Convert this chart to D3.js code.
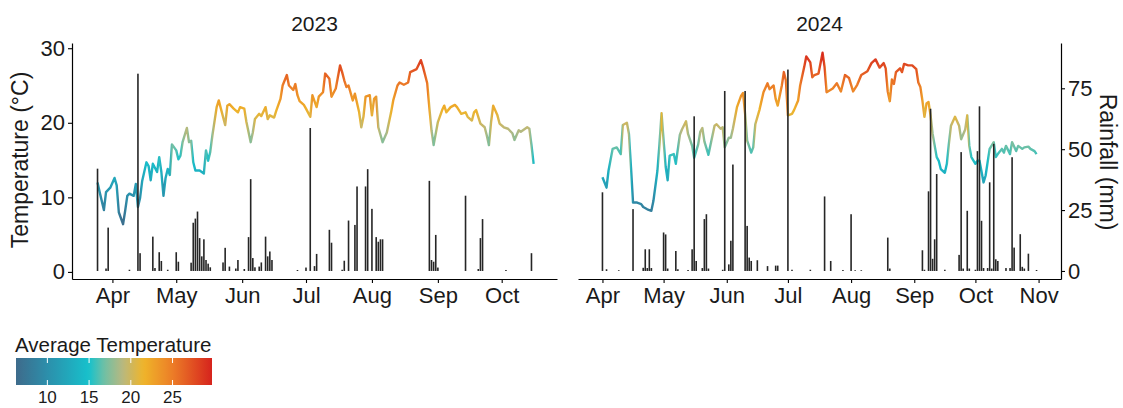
<!DOCTYPE html>
<html>
<head>
<meta charset="utf-8">
<script src="https://cdn.jsdelivr.net/npm/d3@7"></script>
<style>
  html, body { margin: 0; padding: 0; background: #fff; }
  svg text { font-family: "Liberation Sans", Arial, sans-serif; fill: #1a1a1a; }
</style>
</head>
<body>
<div id="chart"></div>
<script>
// Daily mean temperature (°C): [MM-DD, value]
const temp2023 = [
  ["03-25", 12.0], ["03-26", 10.7], ["03-28", 8.3], ["03-29", 10.7], ["03-31", 11.3],
  ["04-02", 12.6], ["04-03", 11.6], ["04-04", 8.0], ["04-06", 6.4], ["04-07", 8.2],
  ["04-08", 10.2], ["04-09", 10.5], ["04-11", 10.2], ["04-12", 11.8], ["04-13", 8.7],
  ["04-14", 9.9], ["04-15", 12.2], ["04-17", 14.7], ["04-18", 14.2], ["04-19", 12.3],
  ["04-20", 14.5], ["04-22", 13.4], ["04-23", 15.4], ["04-24", 13.4], ["04-25", 10.2],
  ["04-26", 12.6], ["04-27", 13.8], ["04-28", 13.0], ["04-29", 17.1], ["05-01", 16.3],
  ["05-02", 15.1], ["05-03", 15.6], ["05-04", 17.4], ["05-06", 19.3], ["05-07", 17.4],
  ["05-08", 17.6], ["05-09", 14.7], ["05-10", 13.6], ["05-12", 13.6], ["05-14", 13.2],
  ["05-15", 16.3], ["05-16", 14.9], ["05-17", 16.1], ["05-18", 18.3], ["05-20", 22.1],
  ["05-21", 23.0], ["05-22", 21.9], ["05-24", 19.7], ["05-25", 22.3], ["05-26", 22.5],
  ["05-28", 21.9], ["05-30", 21.4], ["05-31", 22.1], ["06-02", 21.9], ["06-03", 20.1],
  ["06-05", 17.4], ["06-06", 18.7], ["06-07", 20.5], ["06-09", 21.2], ["06-10", 20.9],
  ["06-12", 22.1], ["06-13", 20.5], ["06-14", 21.0], ["06-16", 20.7], ["06-17", 21.6],
  ["06-19", 23.2], ["06-20", 25.0], ["06-22", 26.4], ["06-23", 25.0], ["06-25", 24.4],
  ["06-26", 25.2], ["06-27", 23.7], ["06-28", 22.9], ["06-30", 22.4], ["07-01", 21.9],
  ["07-03", 20.8], ["07-04", 23.7], ["07-06", 22.1], ["07-07", 23.5], ["07-09", 24.1],
  ["07-10", 26.6], ["07-12", 25.9], ["07-13", 23.5], ["07-15", 24.6], ["07-17", 27.7],
  ["07-18", 26.8], ["07-19", 25.7], ["07-20", 24.8], ["07-21", 25.0], ["07-23", 23.0],
  ["07-24", 23.9], ["07-26", 21.4], ["07-27", 19.4], ["07-28", 20.8], ["07-29", 23.5],
  ["07-31", 23.7], ["08-01", 21.0], ["08-02", 23.2], ["08-03", 23.5], ["08-04", 19.4],
  ["08-06", 17.4], ["08-08", 18.7], ["08-10", 21.4], ["08-11", 23.0], ["08-13", 25.0],
  ["08-14", 25.4], ["08-16", 25.1], ["08-18", 25.4], ["08-19", 26.8], ["08-22", 27.2],
  ["08-24", 28.4], ["08-25", 27.5], ["08-26", 26.4], ["08-27", 25.3], ["08-28", 22.0],
  ["08-29", 19.0], ["08-30", 17.0], ["09-01", 20.1], ["09-03", 21.7], ["09-04", 22.3],
  ["09-05", 21.4], ["09-07", 22.1], ["09-09", 22.4], ["09-10", 22.1], ["09-12", 21.2],
  ["09-14", 21.4], ["09-15", 20.8], ["09-17", 20.3], ["09-18", 21.4], ["09-19", 21.7],
  ["09-21", 19.9], ["09-23", 19.4], ["09-24", 18.3], ["09-25", 17.0], ["09-26", 20.1],
  ["09-27", 22.3], ["09-29", 21.0], ["09-30", 19.9], ["10-02", 19.4], ["10-04", 19.2],
  ["10-06", 18.6], ["10-07", 17.7], ["10-09", 19.0], ["10-10", 18.8], ["10-13", 19.4],
  ["10-14", 19.2], ["10-15", 17.0], ["10-16", 14.5]
];

const temp2024 = [
  ["04-01", 12.7], ["04-03", 11.3], ["04-04", 13.6], ["04-06", 16.5], ["04-08", 16.7],
  ["04-10", 15.8], ["04-11", 19.7], ["04-13", 20.0], ["04-14", 18.5], ["04-15", 14.0],
  ["04-16", 9.3], ["04-18", 9.3], ["04-20", 9.1], ["04-21", 8.7], ["04-23", 8.4],
  ["04-25", 8.2], ["04-26", 9.5], ["04-28", 13.6], ["04-29", 17.2], ["04-30", 21.3],
  ["05-01", 17.6], ["05-02", 14.1], ["05-03", 12.3], ["05-04", 15.6], ["05-06", 15.8],
  ["05-07", 14.5], ["05-09", 18.4], ["05-10", 19.1], ["05-12", 20.2], ["05-13", 18.5],
  ["05-15", 16.9], ["05-16", 15.3], ["05-18", 17.1], ["05-19", 18.8], ["05-20", 19.3],
  ["05-21", 17.5], ["05-23", 15.7], ["05-25", 18.3], ["05-26", 19.6], ["05-27", 19.8],
  ["05-29", 19.2], ["05-30", 19.4], ["05-31", 16.7], ["06-02", 18.0], ["06-03", 18.0],
  ["06-04", 19.2], ["06-06", 22.1], ["06-08", 23.6], ["06-09", 24.0], ["06-10", 21.2],
  ["06-11", 17.6], ["06-13", 16.0], ["06-14", 16.7], ["06-15", 19.8], ["06-17", 21.7],
  ["06-19", 24.1], ["06-21", 25.3], ["06-22", 24.5], ["06-24", 25.0], ["06-25", 23.2],
  ["06-26", 22.3], ["06-28", 25.0], ["06-29", 26.8], ["06-30", 25.7], ["07-01", 21.0],
  ["07-03", 21.2], ["07-04", 21.7], ["07-06", 23.0], ["07-07", 25.0], ["07-09", 27.5],
  ["07-10", 28.9], ["07-12", 28.1], ["07-13", 26.1], ["07-14", 26.4], ["07-16", 26.6],
  ["07-18", 29.4], ["07-19", 27.5], ["07-20", 24.1], ["07-23", 24.6], ["07-25", 25.3],
  ["07-27", 24.2], ["07-29", 26.4], ["07-31", 26.0], ["08-02", 24.2], ["08-04", 25.1],
  ["08-06", 26.4], ["08-09", 26.9], ["08-11", 28.0], ["08-13", 28.5], ["08-15", 27.4],
  ["08-17", 28.0], ["08-18", 27.3], ["08-19", 24.2], ["08-20", 22.9], ["08-21", 25.8],
  ["08-22", 25.2], ["08-23", 26.8], ["08-25", 27.3], ["08-26", 26.8], ["08-27", 27.9],
  ["08-29", 27.7], ["08-31", 27.7], ["09-02", 27.2], ["09-03", 25.4], ["09-04", 24.8],
  ["09-05", 23.0], ["09-06", 20.8], ["09-07", 22.6], ["09-08", 22.8], ["09-09", 21.0],
  ["09-10", 18.5], ["09-12", 15.4], ["09-13", 14.9], ["09-14", 13.8], ["09-16", 13.3],
  ["09-17", 14.5], ["09-18", 17.2], ["09-19", 19.6], ["09-21", 20.8], ["09-23", 19.6],
  ["09-24", 17.8], ["09-26", 19.1], ["09-27", 21.0], ["09-28", 16.9], ["09-29", 15.4],
  ["10-01", 14.5], ["10-02", 14.9], ["10-03", 14.9], ["10-05", 12.0], ["10-06", 12.9],
  ["10-07", 14.7], ["10-08", 16.5], ["10-10", 17.4], ["10-11", 15.4], ["10-12", 15.8],
  ["10-14", 16.5], ["10-15", 16.0], ["10-16", 16.9], ["10-18", 15.8], ["10-19", 17.4],
  ["10-21", 16.2], ["10-22", 16.9], ["10-24", 16.5], ["10-25", 16.7], ["10-27", 16.8],
  ["10-28", 16.5], ["10-30", 16.2], ["10-31", 15.8]
];

// Daily rainfall (mm): [MM-DD, value]
const rain2023 = [
  ["03-25", 42.0], ["03-29", 1.0], ["03-30", 17.8], ["04-09", 0.5], ["04-13", 81.0],
  ["04-14", 7.3], ["04-20", 14.1], ["04-21", 1.2], ["04-23", 7.7], ["04-24", 4.1],
  ["04-27", 0.5], ["05-01", 7.7], ["05-02", 3.8], ["05-08", 3.4], ["05-09", 19.8],
  ["05-10", 21.5], ["05-11", 24.4], ["05-12", 13.5], ["05-13", 6.0], ["05-14", 13.0],
  ["05-15", 4.5], ["05-16", 3.0], ["05-17", 1.5], ["05-23", 3.5], ["05-24", 9.5],
  ["05-26", 1.8], ["05-29", 1.0], ["05-30", 4.5], ["06-02", 0.8], ["06-04", 13.9],
  ["06-05", 37.7], ["06-06", 5.3], ["06-07", 1.5], ["06-09", 1.8], ["06-10", 3.5],
  ["06-12", 14.1], ["06-13", 6.0], ["06-14", 8.0], ["06-15", 4.5], ["06-27", 0.4],
  ["07-01", 1.4], ["07-03", 58.7], ["07-05", 2.0], ["07-06", 7.0], ["07-12", 16.9],
  ["07-13", 11.6], ["07-18", 0.5], ["07-19", 4.2], ["07-21", 20.7], ["07-24", 18.9],
  ["07-25", 34.7], ["07-29", 34.7], ["07-30", 41.8], ["08-01", 25.5], ["08-03", 13.9],
  ["08-04", 12.0], ["08-05", 13.0], ["08-06", 13.0], ["08-28", 37.0], ["08-29", 4.5],
  ["08-30", 3.8], ["08-31", 14.8], ["09-01", 1.4], ["09-14", 30.9], ["09-20", 0.8],
  ["09-21", 13.5], ["09-22", 21.3], ["10-03", 0.4], ["10-15", 7.3]
];

const rain2024 = [
  ["04-01", 32.3], ["04-03", 0.7], ["04-09", 0.3], ["04-16", 25.4], ["04-21", 1.3],
  ["04-22", 8.9], ["04-23", 1.2], ["04-24", 8.9], ["04-25", 1.2], ["05-01", 15.8],
  ["05-02", 15.0], ["05-03", 1.0], ["05-07", 8.2], ["05-08", 0.7], ["05-13", 0.4],
  ["05-15", 8.9], ["05-16", 63.5], ["05-17", 4.1], ["05-20", 1.2], ["05-21", 21.3],
  ["05-22", 23.3], ["05-23", 1.0], ["05-30", 0.5], ["05-31", 73.9], ["06-02", 2.7],
  ["06-03", 12.4], ["06-04", 43.7], ["06-10", 73.9], ["06-11", 18.5], ["06-12", 5.5],
  ["06-13", 4.1], ["06-16", 4.4], ["06-21", 2.0], ["06-25", 2.2], ["06-26", 2.2],
  ["07-01", 82.7], ["07-03", 0.5], ["07-12", 0.5], ["07-19", 30.6], ["07-22", 4.1],
  ["07-28", 0.4], ["08-01", 23.3], ["08-03", 0.3], ["08-06", 0.3], ["08-19", 13.7],
  ["08-20", 1.0], ["09-05", 8.5], ["09-06", 0.5], ["09-08", 32.7], ["09-09", 66.6],
  ["09-10", 5.0], ["09-11", 13.0], ["09-12", 39.8], ["09-16", 0.5], ["09-23", 6.6],
  ["09-24", 48.8], ["09-25", 1.0], ["09-27", 24.7], ["09-28", 1.0], ["10-01", 0.5],
  ["10-02", 49.2], ["10-03", 67.6], ["10-04", 20.6], ["10-05", 1.2], ["10-07", 1.2],
  ["10-08", 36.4], ["10-09", 1.0], ["10-10", 52.2], ["10-11", 4.8], ["10-12", 4.1],
  ["10-16", 1.2], ["10-18", 1.2], ["10-19", 46.7], ["10-20", 9.6], ["10-23", 15.1],
  ["10-24", 1.7], ["10-25", 1.0], ["10-27", 7.1], ["10-31", 0.4]
];

const months2023 = ["04-01", "05-01", "06-01", "07-01", "08-01", "09-01", "10-01"];
const months2024 = ["04-01", "05-01", "06-01", "07-01", "08-01", "09-01", "10-01", "11-01"];
const tempTicks = [0, 10, 20, 30];
const rainTicks = [0, 25, 50, 75];
const legendTicks = [10, 15, 20, 25];
const colourStops = [6.24, 10, 15, 16.8, 19, 21.5, 25, 29.73];
const colourValues = ["#3e6b8b", "#2c8fab", "#17c1cc", "#6fc0a5", "#b8b880", "#efb52a", "#ec7d27", "#d6231d"];

const W = 1123, H = 408;
const parse = d3.timeParse("%Y-%m-%d");
const svg = d3.select("#chart").append("svg").attr("width", W).attr("height", H);
const defs = svg.append("defs");

const colour = d3.scaleLinear().domain(colourStops).range(colourValues).clamp(true);
const yTemp = d3.scaleLinear().domain([-0.95, 30.7]).range([279, 43]);
const yRain = d3.scaleLinear().domain([-3.3, 93.6]).range([279, 43]);

const panels = [
  { year: 2023, x0: 72, x1: 557, domain: ["03-13", "10-27"], months: months2023, temp: temp2023, rain: rain2023, side: "left" },
  { year: 2024, x0: 578, x1: 1061, domain: ["03-20", "11-12"], months: months2024, temp: temp2024, rain: rain2024, side: "right" }
];

function styleAxis(a) {
  a.select(".domain").attr("stroke", "#000").attr("stroke-width", 1.2);
  a.selectAll(".tick line").attr("stroke", "#000").attr("stroke-width", 1.1);
  a.selectAll("text").attr("font-size", 22).attr("fill", "#1a1a1a");
}

panels.forEach(p => {
  const d = s => parse(`${p.year}-${s}`);
  const x = d3.scaleTime().domain(p.domain.map(d)).range([p.x0, p.x1]);
  const g = svg.append("g");
  const temps = p.temp.map(([s, v]) => ({ date: d(s), v }));
  const rains = p.rain.map(([s, v]) => ({ date: d(s), v }));

  // colour gradient along the line
  const gid = `grad${p.year}`;
  const xa = x(temps[0].date), xb = x(temps[temps.length - 1].date);
  const grad = defs.append("linearGradient").attr("id", gid)
    .attr("gradientUnits", "userSpaceOnUse")
    .attr("x1", xa).attr("x2", xb).attr("y1", 0).attr("y2", 0);
  grad.selectAll("stop").data(temps).join("stop")
    .attr("offset", t => (x(t.date) - xa) / (xb - xa))
    .attr("stop-color", t => colour(t.v));

  g.append("path")
    .datum(temps)
    .attr("fill", "none")
    .attr("stroke", `url(#${gid})`)
    .attr("stroke-width", 2.4)
    .attr("stroke-linejoin", "round")
    .attr("d", d3.line().x(t => x(t.date)).y(t => yTemp(t.v)));

  // rainfall bars
  g.append("g").selectAll("rect").data(rains).join("rect")
    .attr("x", r => x(r.date) - 0.8)
    .attr("width", 1.6)
    .attr("y", r => yRain(r.v))
    .attr("height", r => Math.max(0.6, yRain(0) - yRain(r.v)))
    .attr("fill", "#262626");

  // x axis
  const xAxis = g.append("g").attr("transform", `translate(0,279)`)
    .call(d3.axisBottom(x).tickValues(p.months.map(d)).tickFormat(d3.timeFormat("%b")).tickSize(4).tickPadding(4).tickSizeOuter(0));
  styleAxis(xAxis);

  if (p.side === "left") {
    const yAxis = g.append("g").attr("transform", `translate(${p.x0},0)`)
      .call(d3.axisLeft(yTemp).tickValues(tempTicks).tickSize(4).tickPadding(3).tickSizeOuter(0));
    styleAxis(yAxis);
  } else {
    const yAxis = g.append("g").attr("transform", `translate(${p.x1},0)`)
      .call(d3.axisRight(yRain).tickValues(rainTicks).tickSize(4).tickPadding(3).tickSizeOuter(0));
    styleAxis(yAxis);
  }

  // panel title
  svg.append("text")
    .attr("x", (p.x0 + p.x1) / 2).attr("y", 31)
    .attr("text-anchor", "middle").attr("font-size", 21)
    .text(p.year);
});

// axis titles
svg.append("text")
  .attr("transform", "translate(28,160) rotate(-90)")
  .attr("text-anchor", "middle").attr("font-size", 23)
  .text("Temperature (°C)");
svg.append("text")
  .attr("transform", "translate(1100,162) rotate(90)")
  .attr("text-anchor", "middle").attr("font-size", 23)
  .text("Rainfall (mm)");

// colour legend
const lx = d3.scaleLinear().domain([colourStops[0], colourStops[colourStops.length - 1]]).range([16, 212]);
const lgrad = defs.append("linearGradient").attr("id", "legendGrad")
  .attr("gradientUnits", "userSpaceOnUse").attr("x1", 16).attr("x2", 212).attr("y1", 0).attr("y2", 0);
lgrad.selectAll("stop").data(d3.range(0, 1.0001, 0.02)).join("stop")
  .attr("offset", t => t)
  .attr("stop-color", t => colour(lx.invert(16 + t * 196)));

svg.append("text").attr("x", 15).attr("y", 352).attr("font-size", 20.5).text("Average Temperature");
svg.append("rect").attr("x", 16).attr("y", 358).attr("width", 196).attr("height", 27).attr("fill", "url(#legendGrad)");
const lt = svg.append("g");
legendTicks.forEach(v => {
  lt.append("line").attr("x1", lx(v)).attr("x2", lx(v)).attr("y1", 358).attr("y2", 363).attr("stroke", "#fff").attr("stroke-width", 1);
  lt.append("line").attr("x1", lx(v)).attr("x2", lx(v)).attr("y1", 380).attr("y2", 385).attr("stroke", "#fff").attr("stroke-width", 1);
  lt.append("text").attr("x", lx(v)).attr("y", 403).attr("text-anchor", "middle").attr("font-size", 17).text(v);
});
</script>
</body>
</html>
